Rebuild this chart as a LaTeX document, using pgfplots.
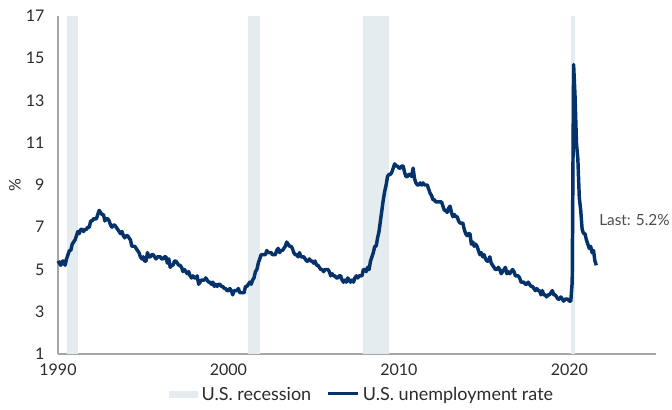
\documentclass[border=0pt]{standalone}
\usepackage{pgfplots}
\usepackage{pgfplotstable}
\pgfplotsset{compat=1.18}
\usepackage{fontspec}
\setmainfont{Lato}
\definecolor{navy}{HTML}{06326B}
\definecolor{recfill}{HTML}{E4ECEF}
\definecolor{axgray}{HTML}{A6A6A6}
\definecolor{txtgray}{HTML}{2B2B2B}
\definecolor{anngray}{HTML}{4D4D4D}

% U.S. unemployment rate, monthly, Jan 1990 - Aug 2021
\pgfplotstableread[row sep=\\]{
v\\
5.4\\5.3\\5.2\\5.4\\5.4\\5.2\\5.5\\5.7\\5.9\\5.9\\6.2\\6.3\\
6.4\\6.6\\6.8\\6.7\\6.9\\6.9\\6.8\\6.9\\6.9\\7.0\\7.0\\7.3\\
7.3\\7.4\\7.4\\7.4\\7.6\\7.8\\7.7\\7.6\\7.6\\7.3\\7.4\\7.4\\
7.3\\7.1\\7.0\\7.1\\7.1\\7.0\\6.9\\6.8\\6.7\\6.8\\6.6\\6.5\\
6.6\\6.6\\6.5\\6.4\\6.1\\6.1\\6.1\\6.0\\5.9\\5.8\\5.6\\5.5\\
5.6\\5.4\\5.4\\5.8\\5.6\\5.6\\5.7\\5.7\\5.6\\5.5\\5.6\\5.6\\
5.6\\5.5\\5.5\\5.6\\5.6\\5.3\\5.5\\5.1\\5.2\\5.2\\5.4\\5.4\\
5.3\\5.2\\5.2\\5.1\\4.9\\5.0\\4.9\\4.8\\4.9\\4.7\\4.6\\4.7\\
4.6\\4.6\\4.7\\4.3\\4.4\\4.5\\4.5\\4.5\\4.6\\4.5\\4.4\\4.4\\
4.3\\4.4\\4.2\\4.3\\4.2\\4.3\\4.3\\4.2\\4.2\\4.1\\4.1\\4.0\\
4.0\\4.1\\4.0\\3.8\\4.0\\4.0\\4.0\\4.1\\3.9\\3.9\\3.9\\3.9\\
4.2\\4.2\\4.3\\4.4\\4.3\\4.5\\4.6\\4.9\\5.0\\5.3\\5.5\\5.7\\
5.7\\5.7\\5.7\\5.9\\5.8\\5.8\\5.8\\5.7\\5.7\\5.7\\5.9\\6.0\\
5.8\\5.9\\5.9\\6.0\\6.1\\6.3\\6.2\\6.1\\6.1\\6.0\\5.8\\5.7\\
5.7\\5.6\\5.8\\5.6\\5.6\\5.6\\5.5\\5.4\\5.4\\5.5\\5.4\\5.4\\
5.3\\5.4\\5.2\\5.2\\5.1\\5.0\\5.0\\4.9\\5.0\\5.0\\5.0\\4.9\\
4.7\\4.8\\4.7\\4.7\\4.6\\4.6\\4.7\\4.7\\4.5\\4.4\\4.5\\4.4\\
4.6\\4.5\\4.4\\4.5\\4.4\\4.6\\4.7\\4.6\\4.7\\4.7\\4.7\\5.0\\
5.0\\4.9\\5.1\\5.0\\5.4\\5.6\\5.8\\6.1\\6.1\\6.5\\6.8\\7.3\\
7.8\\8.3\\8.7\\9.0\\9.4\\9.5\\9.5\\9.6\\9.8\\10.0\\9.9\\9.9\\
9.8\\9.8\\9.9\\9.9\\9.6\\9.4\\9.4\\9.5\\9.5\\9.4\\9.8\\9.3\\
9.1\\9.0\\9.0\\9.1\\9.0\\9.1\\9.0\\9.0\\9.0\\8.8\\8.6\\8.5\\
8.3\\8.3\\8.2\\8.2\\8.2\\8.2\\8.2\\8.0\\7.8\\7.8\\7.7\\7.9\\
8.0\\7.7\\7.5\\7.6\\7.5\\7.5\\7.3\\7.2\\7.2\\7.2\\6.9\\6.7\\
6.6\\6.7\\6.7\\6.2\\6.3\\6.1\\6.2\\6.1\\5.9\\5.7\\5.8\\5.6\\
5.7\\5.5\\5.4\\5.4\\5.6\\5.3\\5.2\\5.1\\5.0\\5.0\\5.1\\5.0\\
4.8\\4.9\\5.0\\5.1\\4.8\\4.9\\4.8\\4.9\\5.0\\4.9\\4.7\\4.7\\
4.7\\4.6\\4.4\\4.4\\4.4\\4.3\\4.3\\4.4\\4.3\\4.2\\4.2\\4.1\\
4.0\\4.1\\4.0\\4.0\\3.8\\4.0\\3.8\\3.8\\3.7\\3.8\\3.8\\3.9\\
4.0\\3.8\\3.8\\3.7\\3.6\\3.6\\3.7\\3.6\\3.5\\3.6\\3.6\\3.6\\
3.5\\3.5\\4.4\\14.7\\13.2\\11.0\\10.2\\8.4\\7.8\\6.9\\6.7\\6.7\\
6.4\\6.2\\6.0\\6.1\\5.8\\5.9\\5.4\\5.2\\
}\unrate

\begin{document}
\fontsize{12}{14}\selectfont
\begin{tikzpicture}
\begin{axis}[
  scale only axis,
  width=448.5pt, height=253.5pt,
  xmin=0, xmax=421, ymin=1, ymax=17,
  axis x line=bottom, axis y line=left,
  axis line style={axgray, line width=0.8pt, -},
  xtick={0,120,240,360}, xticklabels={1990,2000,2010,2020},
  ytick={1,3,5,7,9,11,13,15,17},
  major tick length=0pt,
  /pgf/number format/assume math mode=true,
  tick label style={font=\fontsize{12}{14}\selectfont, text=txtgray},
  xticklabel style={yshift=-3pt},
  yticklabel style={xshift=-6pt},
  ylabel={\%},
  ylabel style={at={(axis description cs:-0.072,0.5)}, anchor=center, rotate=0, font=\fontsize{12}{14}\selectfont, text=txtgray},
  clip=false,
  legend columns=2,
  legend style={draw=none, fill=none, at={(axis description cs:0.5096,-0.121)}, anchor=center,
    font=\fontsize{13.5}{15}\selectfont, text=txtgray,
    nodes={inner xsep=2.5pt},
    /tikz/every even column/.append style={column sep=9pt}},
]
\addplot[fill=recfill, draw=none,
  legend image code/.code={\fill[recfill] (0pt,-2.6pt) rectangle (22pt,2.6pt);}]
  coordinates {(6,1) (6,17) (14,17) (14,1)} -- cycle;
\addlegendentry{U.S. recession}
\addplot[fill=recfill, draw=none, forget plot]
  coordinates {(134,1) (134,17) (142,17) (142,1)} -- cycle;
\addplot[fill=recfill, draw=none, forget plot]
  coordinates {(215,1) (215,17) (233,17) (233,1)} -- cycle;
\addplot[fill=recfill, draw=none, forget plot]
  coordinates {(361,1) (361,17) (364,17) (364,1)} -- cycle;
\addplot[navy, line width=2.6pt, line join=round,
  legend image code/.code={\draw[navy, line width=2.3pt] (0pt,1pt) -- (22.5pt,1pt);}]
  table[x expr=\coordindex, y=v] {\unrate};
\addlegendentry{U.S. unemployment rate}
\node[anchor=west, text=anngray, font=\fontsize{11.5}{13}\selectfont, inner xsep=2pt] at (axis cs:379,7.35) {Last: 5.2\%};
\end{axis}
\pgfresetboundingbox
\useasboundingbox (-43.5pt,-42pt) rectangle (460.5pt,265.5pt);
\end{tikzpicture}
\end{document}
